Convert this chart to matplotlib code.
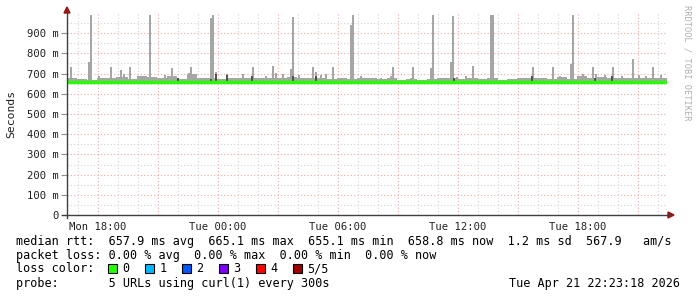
import numpy as np
import matplotlib
matplotlib.use("Agg")
import matplotlib.pyplot as plt
from matplotlib.lines import Line2D
from matplotlib.patches import Polygon, Rectangle

# ---- data (hours since Mon 00:00, values in seconds) ----
x_start, x_end = 16.45, 46.45

# tall smoke spikes: centre hour, top of smoke
spike_hour = [16.65, 17.55, 17.65, 18.075, 18.625, 18.925, 19.125, 19.3, 19.45, 19.6,
              20.2, 20.625, 20.8, 21.35, 21.7, 22.05, 22.55, 22.65, 23.2, 23.65,
              23.75, 23.9, 24.45, 24.75, 25.275, 25.6, 25.75, 26.05, 26.4, 26.75,
              26.9, 27.275, 27.65, 27.75, 28.05, 28.5, 28.75, 28.9, 29.15, 29.4,
              29.75, 30.25, 30.65, 30.75, 31.15, 31.5, 31.8, 32.15, 32.5, 32.65,
              32.75, 33.45, 33.65, 33.75, 34.5, 34.65, 34.75, 35.25, 35.65, 35.75,
              35.95, 36.4, 36.75, 36.95, 37.65, 37.75, 37.95, 38.6, 38.85, 39.15,
              39.65, 39.75, 40.1, 40.75, 41.1, 41.65, 41.75, 42.25, 42.75, 42.9,
              43.35, 43.75, 44.2, 44.75, 45.05, 45.4, 45.75, 46.15]
spike_top = [0.731, 0.756, 0.990, 0.688, 0.731, 0.685, 0.718, 0.698, 0.682, 0.731,
             0.688, 0.990, 0.682, 0.695, 0.728, 0.675, 0.705, 0.731, 0.678, 0.974,
             0.990, 0.706, 0.698, 0.678, 0.698, 0.678, 0.734, 0.678, 0.688, 0.737,
             0.701, 0.698, 0.723, 0.982, 0.693, 0.678, 0.734, 0.710, 0.693, 0.698,
             0.734, 0.678, 0.941, 0.990, 0.688, 0.680, 0.676, 0.680, 0.678, 0.688,
             0.734, 0.674, 0.678, 0.734, 0.674, 0.730, 0.990, 0.678, 0.759, 0.985,
             0.682, 0.690, 0.737, 0.676, 0.990, 0.990, 0.680, 0.674, 0.674, 0.676,
             0.678, 0.734, 0.676, 0.734, 0.688, 0.746, 0.990, 0.696, 0.734, 0.696,
             0.693, 0.734, 0.688, 0.772, 0.693, 0.688, 0.734, 0.695]

# low smoke band, half hour bins from x_start
band_top = [0.678, 0.674, 0.670, 0.680, 0.676, 0.685, 0.672, 0.688, 0.682, 0.676,
            0.690, 0.675, 0.700, 0.678, 0.680, 0.672, 0.678, 0.676, 0.680, 0.678,
            0.678, 0.680, 0.685, 0.678, 0.676, 0.680, 0.672, 0.676, 0.672, 0.676,
            0.676, 0.674, 0.678, 0.668, 0.672, 0.666, 0.672, 0.676, 0.680, 0.672,
            0.678, 0.672, 0.678, 0.670, 0.672, 0.676, 0.676, 0.676, 0.674, 0.684,
            0.672, 0.688, 0.680, 0.684, 0.678, 0.680, 0.676, 0.680, 0.676, 0.676]

# darker inner smoke
dark_hour = [22.0, 23.65, 23.9, 24.45, 25.7, 27.75, 28.9, 35.8, 39.7, 42.85, 43.7]
dark_low = [0.660, 0.655, 0.665, 0.663, 0.660, 0.660, 0.665, 0.665, 0.663, 0.665, 0.665]
dark_top = [0.678, 0.672, 0.698, 0.693, 0.688, 0.688, 0.690, 0.680, 0.690, 0.680, 0.688]

# median rtt, hourly
median_rtt = [0.658, 0.658, 0.657, 0.658, 0.658, 0.657, 0.658, 0.658, 0.659, 0.658,
              0.658, 0.657, 0.658, 0.658, 0.658, 0.657, 0.658, 0.658, 0.658, 0.660,
              0.658, 0.657, 0.658, 0.658, 0.659, 0.658, 0.658, 0.658, 0.657, 0.658,
              0.658]

y_ticks = [0, 0.1, 0.2, 0.3, 0.4, 0.5, 0.6, 0.7, 0.8, 0.9]
y_labels = ['0', '100 m', '200 m', '300 m', '400 m', '500 m', '600 m', '700 m', '800 m', '900 m']
x_ticks = [18, 24, 30, 36, 42]
x_labels = ['Mon 18:00', 'Tue 00:00', 'Tue 06:00', 'Tue 12:00', 'Tue 18:00']

loss_labels = ['0', '1', '2', '3', '4', '5/5']
loss_colors = ['#26ff00', '#00b8ff', '#0059ff', '#7e00ff', '#ff0000', '#a00000']

MONO = 'DejaVu Sans Mono'
W, H = 697, 297


def fx(px):
    return px / W


def fy(py):
    return 1 - py / H


fig = plt.figure(figsize=(W / 100, H / 100), dpi=100)
ax = fig.add_axes([fx(67), fy(215), 600 / W, 202 / H])
ax.set_xlim(x_start, x_end)
ax.set_ylim(0, 1.0)
for s in ax.spines.values():
    s.set_visible(False)

# grid
dots = (0, (1, 2))
for h in np.arange(17, 47):
    major = (h % 3 == 0)
    ax.axvline(h, color='#f0a8a8' if major else '#d4d4d4', lw=0.8, ls=dots, zorder=0)
for v in np.arange(0.05, 1.0, 0.05):
    major = abs(v * 10 - round(v * 10)) < 1e-6
    ax.axhline(v, color='#f0a8a8' if major else '#d4d4d4', lw=0.8, ls=dots, zorder=0)

# smoke
band_left = x_start + 0.5 * np.arange(len(band_top))
ax.bar(band_left, np.array(band_top) - 0.650, bottom=0.650, width=0.5, align='edge',
       color='#a6a6a6', lw=0, zorder=2)
ax.bar(spike_hour, np.array(spike_top) - 0.650, bottom=0.650, width=0.1,
       color='#a6a6a6', lw=0, zorder=3)
ax.bar(dark_hour, np.array(dark_top) - np.array(dark_low), bottom=dark_low, width=0.1,
       color='#505050', lw=0, zorder=4)

# median line
med_x = x_start + np.arange(len(median_rtt) + 1)
ax.step(med_x, median_rtt + [median_rtt[-1]], where='post', color='#26ff00', lw=2.4,
        zorder=5, clip_on=True)

ax.set_yticks(y_ticks)
ax.set_yticklabels(y_labels, fontfamily=MONO, fontsize=7.6)
ax.set_xticks(x_ticks)
ax.set_xticklabels(x_labels, fontfamily=MONO, fontsize=7.6)
ax.tick_params(axis='y', length=4, width=0.8, color='#909090', pad=2, labelcolor='#202020')
ax.tick_params(axis='x', length=0, pad=5, labelcolor='#202020')

# axes with arrows
fig.add_artist(Line2D([fx(67), fx(67)], [fy(218), fy(10)], transform=fig.transFigure,
                      color='#404040', lw=1))
fig.add_artist(Line2D([fx(62), fx(670)], [fy(215), fy(215)], transform=fig.transFigure,
                      color='#404040', lw=1))
fig.add_artist(Polygon([[fx(64), fy(13)], [fx(70), fy(13)], [fx(67), fy(7)]],
                       closed=True, transform=fig.transFigure, color='#a01010'))
fig.add_artist(Polygon([[fx(668), fy(212)], [fx(668), fy(218)], [fx(674), fy(215)]],
                       closed=True, transform=fig.transFigure, color='#a01010'))

fig.text(fx(11), fy(114), 'Seconds', rotation=90, ha='center', va='center',
         fontfamily=MONO, fontsize=8.2, color='#202020')
fig.text(fx(687), fy(5), 'RRDTOOL / TOBI OETIKER', rotation=270, ha='center', va='top',
         fontfamily=MONO, fontsize=6.2, color='#b0b0b0')

# legend rows
rows = [
    'median rtt:  657.9 ms avg  665.1 ms max  655.1 ms min  658.8 ms now  1.2 ms sd  567.9   am/s',
    'packet loss: 0.00 % avg  0.00 % max  0.00 % min  0.00 % now',
    'loss color:',
    'probe:       5 URLs using curl(1) every 300s',
]
for i, line in enumerate(rows):
    fig.text(fx(16), fy(241 + 14 * i), line, ha='left', va='center',
             fontfamily=MONO, fontsize=8.5, color='black')

box_x = [108, 145, 182, 219, 256, 293]
for bx, lab, col in zip(box_x, loss_labels, loss_colors):
    fig.add_artist(Rectangle((fx(bx), fy(273)), 9 / W, 9 / H, transform=fig.transFigure,
                             facecolor=col, edgecolor='black', lw=0.8))
    fig.text(fx(bx + 14.5), fy(269), lab, ha='left', va='center',
             fontfamily=MONO, fontsize=8.5, color='black')

fig.text(fx(680), fy(283), 'Tue Apr 21 22:23:18 2026', ha='right', va='center',
         fontfamily=MONO, fontsize=8.5, color='black')

fig.savefig('out.png', dpi=100, facecolor='white')
